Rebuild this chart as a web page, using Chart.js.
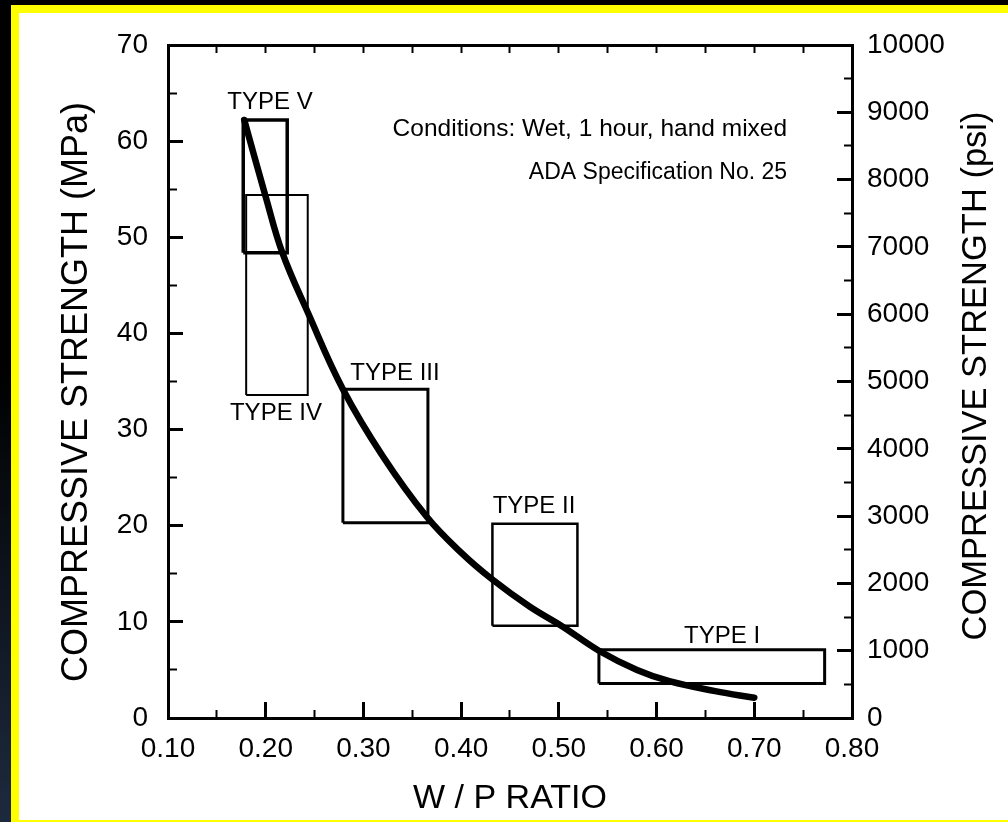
<!DOCTYPE html>
<html>
<head>
<meta charset="utf-8">
<script src="https://cdn.jsdelivr.net/npm/chart.js@4/dist/chart.umd.min.js"></script>
<style>
  html, body { margin: 0; padding: 0; background: #000; }
  body {
    width: 1008px; height: 822px; overflow: hidden;
    background: linear-gradient(to bottom, #000 0%, #000 45%, #1d2a3e 100%);
    position: relative;
  }
  #moldura {
    position: absolute; left: 11px; top: 5px; width: 1000px; height: 817px;
    box-sizing: border-box; background: #fff;
    border-top: 8px solid #ffff00; border-left: 8px solid #ffff00; border-bottom: 2px solid #ffff00;
  }
  #grafico { display: block; }
</style>
</head>
<body>
<div id="moldura"><canvas id="grafico" width="989" height="807"></canvas></div>
<script>
// Curva: resistencia x relacao agua/po
const wpRatio = [0.178, 0.20, 0.217, 0.243, 0.279, 0.32, 0.365, 0.40, 0.432, 0.47, 0.504, 0.541, 0.58, 0.614, 0.66, 0.70];
const strengthMPa = [62.2, 54.2, 48.4, 42.2, 34.2, 27.2, 20.9, 17.2, 14.4, 11.6, 9.5, 7.0, 5.0, 3.8, 2.8, 2.1];

// Faixas de cada tipo de gesso
const typeNames = ["TYPE I", "TYPE II", "TYPE III", "TYPE IV", "TYPE V"];
const boxRatioLow = [0.541, 0.432, 0.279, 0.180, 0.177];
const boxRatioHigh = [0.772, 0.519, 0.366, 0.243, 0.222];
const boxMPaLow = [3.6, 9.6, 20.3, 33.6, 48.4];
const boxMPaHigh = [7.1, 20.2, 34.2, 54.4, 62.2];

// Eixos
const ratioMin = 0.1, ratioMax = 0.8;
const mpaMax = 70, psiMax = 10000;

const fonte = "'Liberation Sans', Arial, Helvetica, sans-serif";
Chart.defaults.font.family = fonte;
Chart.defaults.color = "#000";

// onde escrever os nomes dos tipos (em unidades do grafico)
const labelRatio = [0.667, 0.4746, 0.3323, 0.2105, 0.2044];
const labelMPa = [8.5, 22.0, 35.8, 31.7, 64.0];
const boxWidths = [3, 2.5, 3, 2, 3.5];

const datasets = typeNames.map((nome, i) => ({
  label: nome,
  data: [
    { x: boxRatioLow[i], y: boxMPaLow[i] },
    { x: boxRatioHigh[i], y: boxMPaLow[i] },
    { x: boxRatioHigh[i], y: boxMPaHigh[i] },
    { x: boxRatioLow[i], y: boxMPaHigh[i] },
    { x: boxRatioLow[i], y: boxMPaLow[i] },
  ],
  borderColor: "#000",
  borderWidth: boxWidths[i],
  pointRadius: 0,
  tension: 0,
  fill: false,
  xAxisID: "x",
  yAxisID: "y",
}));

datasets.push({
  label: "Compressive strength",
  data: wpRatio.map((r, i) => ({ x: r, y: strengthMPa[i] })),
  borderColor: "#000",
  borderWidth: 6.5,
  borderCapStyle: "round",
  pointRadius: 0,
  tension: 0.4,
  fill: false,
  xAxisID: "x",
  yAxisID: "y",
});

// Textos extras e titulos verticais
const notasPlugin = {
  id: "notas",
  afterDraw(chart) {
    const { ctx, chartArea } = chart;
    const x = chart.scales.x;
    const y = chart.scales.y;
    ctx.save();
    ctx.fillStyle = "#000";
    ctx.textBaseline = "middle";

    ctx.font = "24px " + fonte;
    ctx.textAlign = "center";
    typeNames.forEach((nome, i) => {
      ctx.fillText(nome, x.getPixelForValue(labelRatio[i]), y.getPixelForValue(labelMPa[i]));
    });

    ctx.textAlign = "right";
    ctx.font = "24.5px " + fonte;
    ctx.fillText("Conditions: Wet, 1 hour, hand mixed", x.getPixelForValue(0.7336), y.getPixelForValue(61.2));
    ctx.font = "23px " + fonte;
    ctx.fillText("ADA Specification No. 25", x.getPixelForValue(0.7336), y.getPixelForValue(56.7));

    ctx.textAlign = "center";
    ctx.font = "36px " + fonte;
    ctx.save();
    ctx.translate(58, chartArea.top + 347);
    ctx.rotate(-Math.PI / 2);
    ctx.fillText("COMPRESSIVE STRENGTH (MPa)", 0, 0);
    ctx.restore();

    ctx.font = "34.5px " + fonte;
    ctx.save();
    ctx.translate(957, chartArea.top + 331);
    ctx.rotate(-Math.PI / 2);
    ctx.fillText("COMPRESSIVE STRENGTH (psi)", 0, 0);
    ctx.restore();

    ctx.restore();
  },
};

const rotulo = { size: 28 };

// fixa o tamanho de cada eixo e tira o recuo dos rotulos
function tamanho(prop, valor) {
  return (s) => {
    s[prop] = valor;
    s.paddingTop = 0;
    s.paddingBottom = 0;
    s.paddingLeft = 0;
    s.paddingRight = 0;
  };
}

const config = {
  type: "line",
  data: { datasets },
  options: {
    responsive: false,
    animation: false,
    layout: { padding: 0 },
    plugins: {
      legend: { display: false },
      tooltip: { enabled: false },
    },
    scales: {
      x: {
        type: "linear", position: "bottom", weight: 1,
        min: ratioMin, max: ratioMax,
        ticks: { stepSize: 0.1, font: rotulo, padding: 30, callback: (v) => v.toFixed(2) },
        grid: { drawOnChartArea: false, tickLength: -16, tickWidth: 3, tickColor: "#000" },
        border: { color: "#000", width: 3 },
        title: { display: true, text: "W / P RATIO", font: { size: 34, lineHeight: 1 }, padding: { top: 0, bottom: 4 } },
        afterFit: tamanho("height", 102),
      },
      xMinor: {
        type: "linear", position: "bottom", weight: 0,
        min: ratioMin, max: ratioMax,
        ticks: { stepSize: 0.05, display: false },
        grid: { drawOnChartArea: false, tickLength: -8, tickWidth: 2, tickColor: "#000" },
        border: { display: false },
        afterFit: tamanho("height", 0),
      },
      xTop: {
        type: "linear", position: "top",
        min: ratioMin, max: ratioMax,
        ticks: { stepSize: 0.05, display: false },
        grid: { drawOnChartArea: false, tickLength: -8, tickWidth: 2, tickColor: "#000" },
        border: { color: "#000", width: 3 },
        afterFit: tamanho("height", 32),
      },
      y: {
        type: "linear", position: "left", weight: 1,
        min: 0, max: mpaMax,
        ticks: { stepSize: 10, font: rotulo, padding: 35 },
        grid: { drawOnChartArea: false, tickLength: -15, tickWidth: 3, tickColor: "#000" },
        border: { color: "#000", width: 3 },
        afterFit: tamanho("width", 149),
      },
      yMinor: {
        type: "linear", position: "left", weight: 0,
        min: 0, max: mpaMax,
        ticks: { stepSize: 5, display: false },
        grid: { drawOnChartArea: false, tickLength: -9, tickWidth: 2, tickColor: "#000" },
        border: { display: false },
        afterFit: tamanho("width", 0),
      },
      y2: {
        type: "linear", position: "right", weight: 1,
        min: 0, max: psiMax,
        ticks: { stepSize: 1000, font: rotulo, padding: 30, callback: (v) => String(v) },
        grid: { drawOnChartArea: false, tickLength: -15, tickWidth: 3, tickColor: "#000" },
        border: { color: "#000", width: 3 },
        afterFit: tamanho("width", 156),
      },
      y2Minor: {
        type: "linear", position: "right", weight: 0,
        min: 0, max: psiMax,
        ticks: { stepSize: 500, display: false },
        grid: { drawOnChartArea: false, tickLength: -8, tickWidth: 2, tickColor: "#000" },
        border: { display: false },
        afterFit: tamanho("width", 0),
      },
    },
  },
  plugins: [notasPlugin],
};

const ctx = document.getElementById("grafico").getContext("2d");
const grafico = new Chart(ctx, config);
</script>
</body>
</html>
